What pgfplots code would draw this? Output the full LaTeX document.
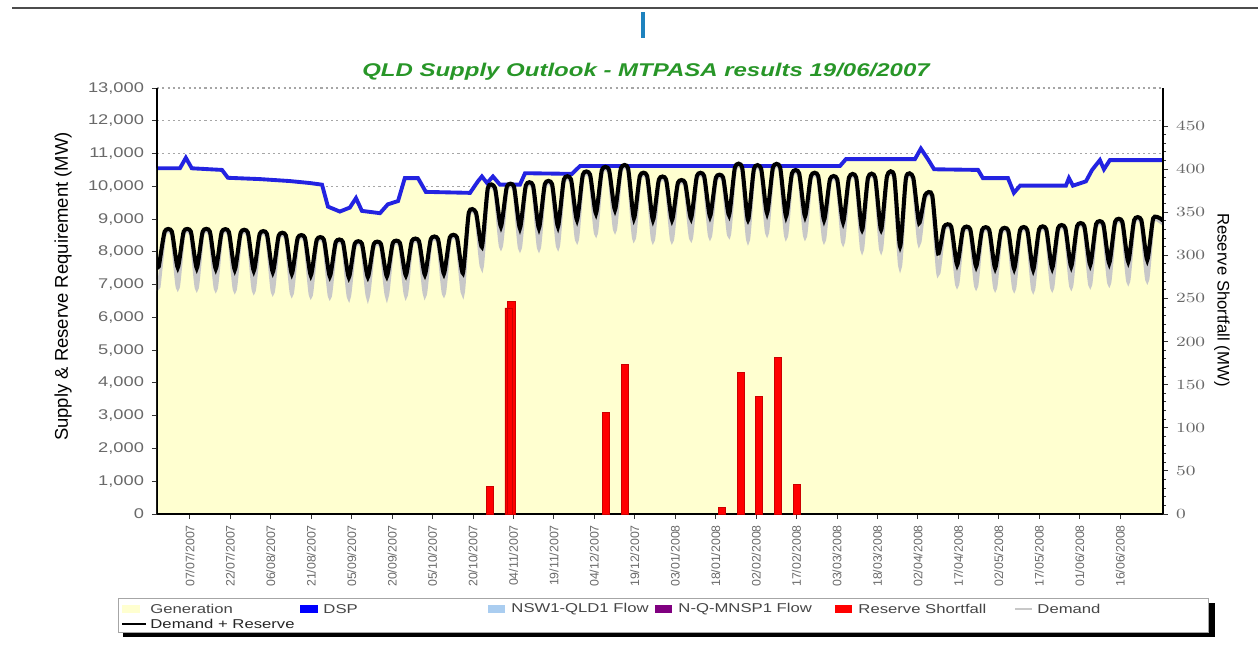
\documentclass[border=0pt]{standalone}
\usepackage{fontspec}
\setmainfont{Liberation Sans}
\usepackage{pgfplots}
\pgfplotsset{compat=1.18}
\usepackage{pgfplotstable}

\definecolor{genyellow}{RGB}{255,255,208}
\definecolor{dspblue}{RGB}{35,35,225}
\definecolor{tickgray}{RGB}{105,105,105}
\definecolor{titlegreen}{RGB}{40,150,40}
\definecolor{demgray}{RGB}{200,200,200}
\definecolor{nswblue}{RGB}{170,205,240}
\definecolor{mnsppurple}{RGB}{128,0,128}
\definecolor{legtext}{RGB}{70,70,70}
\definecolor{barblue}{RGB}{30,130,190}

% DSP (MW) vs day (day 0 = 07/07/2007)
\pgfplotstableread{
x y
-12.2 10550
-3.7 10550
-1.5 10870
0.7 10550
11.9 10500
14.1 10260
26.0 10220
37.1 10160
44.5 10100
49.0 10050
51.2 9380
55.6 9230
59.3 9350
61.6 9640
63.8 9250
70.5 9180
73.4 9450
77.2 9550
79.7 10250
84.6 10250
87.5 9830
103.9 9800
106.8 10150
108.3 10300
110.2 10100
112.4 10300
115.0 10050
122.4 10050
124.3 10400
141.7 10380
144.7 10620
241.1 10620
243.3 10830
268.9 10830
271.1 11150
273.7 10830
276.0 10520
292.3 10500
294.1 10250
303.4 10250
305.6 9800
307.9 10020
324.9 10020
326.0 10250
327.5 10020
332.3 10150
334.6 10500
337.5 10800
339.0 10520
341.2 10800
360.9 10800
}\dsp

% Demand + Reserve (dr) and Demand (d)
\pgfplotstableread{
x dr d
-12.2 7700 7150
-11.55 7550 6930
-9.35 8620 8520
-6.70 8620 8520
-4.5 7520 6900
-2.3 8620 8520
0.35 8620 8520
2.55 7500 6880
4.75 8620 8520
7.4 8620 8520
9.6 7480 6860
11.8 8610 8510
14.45 8610 8510
16.65 7450 6830
18.85 8590 8490
21.5 8590 8490
23.7 7420 6800
25.9 8550 8450
28.55 8550 8450
30.75 7380 6760
32.95 8500 8400
35.6 8500 8400
37.8 7330 6710
40.0 8430 8330
42.65 8430 8330
44.85 7280 6660
47.05 8370 8270
49.7 8370 8270
51.9 7250 6630
54.1 8300 8200
56.75 8300 8200
58.95 7220 6600
61.15 8250 8150
63.8 8250 8150
66.0 7230 6610
68.2 8240 8140
70.85 8240 8140
73.05 7250 6630
75.25 8270 8170
77.9 8270 8170
80.1 7280 6660
82.3 8330 8230
84.95 8330 8230
87.15 7300 6680
89.35 8390 8290
92.0 8390 8290
94.2 7330 6710
96.4 8440 8340
99.05 8440 8340
101.25 7350 6730
103.45 9200 9100
106.1 9200 9100
108.3 8150 7530
110.5 9950 9850
113.15 9950 9850
115.35 8770 8150
117.55 9990 9890
120.2 9990 9890
122.4 8720 8100
124.6 10030 9930
127.25 10030 9930
129.45 8720 8100
131.65 10070 9970
134.3 10070 9970
136.5 8770 8150
138.7 10210 10110
141.35 10210 10110
143.55 8970 8350
145.75 10360 10260
148.4 10360 10260
150.6 9170 8550
152.8 10500 10400
155.45 10500 10400
157.65 9280 8660
159.85 10550 10450
162.5 10550 10450
164.7 9020 8400
166.9 10320 10220
169.55 10320 10220
171.75 8970 8350
173.95 10210 10110
176.6 10210 10110
178.8 8970 8350
181.0 10110 10010
183.65 10110 10010
185.85 9020 8400
188.05 10320 10220
190.7 10320 10220
192.9 9080 8460
195.1 10270 10170
197.75 10270 10170
199.95 9120 8500
202.15 10580 10480
204.8 10580 10480
207.0 8970 8350
209.2 10540 10440
211.85 10540 10440
214.05 9180 8560
216.25 10580 10480
218.9 10580 10480
221.1 9080 8460
223.3 10400 10300
225.95 10400 10300
228.15 9080 8460
230.35 10320 10220
233.0 10320 10220
235.2 8970 8350
237.4 10220 10120
240.05 10220 10120
242.25 8900 8280
244.45 10270 10170
247.1 10270 10170
249.3 8670 8050
251.5 10270 10170
254.15 10270 10170
256.35 8670 8050
258.55 10320 10220
261.2 10320 10220
263.4 8160 7540
265.6 10270 10170
268.25 10270 10170
270.45 8880 8260
272.65 9730 9630
275.3 9730 9630
277.5 7950 7330
279.7 8770 8670
282.35 8770 8670
284.55 7600 6980
286.75 8690 8590
289.4 8690 8590
291.6 7550 6930
293.8 8670 8570
296.45 8670 8570
298.65 7500 6880
300.85 8650 8550
303.5 8650 8550
305.7 7480 6860
307.9 8670 8570
310.55 8670 8570
312.75 7450 6830
314.95 8690 8590
317.6 8690 8590
319.8 7500 6880
322.0 8730 8630
324.65 8730 8630
326.85 7550 6930
329.05 8790 8690
331.7 8790 8690
333.9 7600 6980
336.1 8850 8750
338.75 8850 8750
340.95 7650 7030
343.15 8920 8820
345.8 8920 8820
348.0 7700 7080
350.2 8970 8870
352.85 8970 8870
355.05 7750 7130
357.25 9020 8920
359.9 9020 8920
360.9 8950 8850
}\dem

% Reserve shortfall (MW, right axis)
\pgfplotstableread{
x y
111.3 32
118.2 239
119.2 247
154.3 118
161.3 173
197.3 8
204.4 164
211.0 136
218.1 182
225.1 34
}\shortfall

\begin{document}
\begin{tikzpicture}
\path[use as bounding box] (0,0) rectangle (25.16,13.18);
% header remnants
\draw[line width=0.045cm, black!70] (0.24,13.02) -- (25.16,13.02);
\fill[barblue] (12.82,12.42) rectangle (12.90,12.94);

\begin{axis}[
  at={(3.14cm,2.90cm)}, anchor=south west,
  width=20.12cm, height=8.52cm, scale only axis,
  xmin=-12.2, xmax=360.9, ymin=0, ymax=13000,
  scaled y ticks=false, scaled x ticks=false,
  axis x line*=bottom, axis y line*=left,
  axis line style={black, line width=0.9pt},
  tick align=outside, major tick length=0.1cm,
  tick style={black!80, line width=0.5pt},
  ytick={0,1000,...,13000},
  yticklabels={0,{1,000},{2,000},{3,000},{4,000},{5,000},{6,000},{7,000},{8,000},{9,000},{10,000},{11,000},{12,000},{13,000}},
  yticklabel style={font=\fontsize{8}{9}\selectfont, text=tickgray, xscale=1.3},
  xtick={0,15,...,345},
  xticklabels={07/07/2007,22/07/2007,06/08/2007,21/08/2007,05/09/2007,20/09/2007,05/10/2007,20/10/2007,04/11/2007,19/11/2007,04/12/2007,19/12/2007,03/01/2008,18/01/2008,02/02/2008,17/02/2008,03/03/2008,18/03/2008,02/04/2008,17/04/2008,02/05/2008,17/05/2008,01/06/2008,16/06/2008},
  xticklabel style={rotate=90, anchor=east, font=\fontsize{7}{8}\selectfont, text=tickgray},
  ymajorgrids, grid style={gray!70, line width=0.6pt, dash pattern=on 1.2pt off 1.8pt},
]
\addplot[draw=none, fill=genyellow] table[x=x,y=y]{\dsp} \closedcycle;
\addplot[dspblue, line width=2.2pt] table[x=x,y=y]{\dsp};
\addplot[demgray, line width=2.0pt, smooth, tension=0.35] table[x=x,y=d]{\dem};
\addplot[black, line width=2.3pt, smooth, tension=0.35] table[x=x,y=dr]{\dem};
\draw[black, line width=0.9pt] (rel axis cs:0,1) -- (rel axis cs:0,0) -- (rel axis cs:1,0);
\end{axis}

\begin{axis}[
  at={(3.14cm,2.90cm)}, anchor=south west,
  width=20.12cm, height=8.52cm, scale only axis,
  xmin=-12.2, xmax=360.9, ymin=0, ymax=494,
  axis x line=none, axis y line*=right,
  axis line style={black, line width=0.9pt},
  tick align=outside, major tick length=0.1cm, minor tick length=0.06cm,
  tick style={black!80, line width=0.5pt},
  ytick={0,50,...,450}, minor y tick num=4,
  yticklabel style={font=\fontsize{8}{9}\selectfont, text=tickgray, xscale=1.3},
]
\addplot[ybar, bar width=0.15cm, fill=red, draw=red!80!black, line width=0.4pt] table[x=x,y=y]{\shortfall};
\end{axis}

% title and axis labels
\node[font=\fontsize{10.5}{12}\selectfont\bfseries\itshape, text=titlegreen, xscale=1.3] at (12.92,11.74) {QLD Supply Outlook - MTPASA results 19/06/2007};
\node[rotate=90, font=\fontsize{10.5}{12}\selectfont] at (1.26,7.45) {Supply \& Reserve Requirement (MW)};
\node[rotate=-90, font=\fontsize{9.5}{11}\selectfont] at (24.44,7.18) {Reserve Shortfall (MW)};

% legend
\fill[black] (2.46,0.44) rectangle (24.30,1.12);
\draw[fill=white, draw=gray!70, line width=0.4pt] (2.36,0.54) rectangle (24.16,1.22);
\begin{scope}[every node/.style={font=\fontsize{7.3}{8}\selectfont, text=legtext, anchor=west, xscale=1.3, inner sep=0pt}]
\fill[genyellow] (2.44,0.92) rectangle (2.80,1.08);
\node at (3.00,1.00) {Generation};
\fill[blue] (6.00,0.92) rectangle (6.36,1.08);
\node at (6.46,1.00) {DSP};
\fill[nswblue] (9.76,0.92) rectangle (10.10,1.08);
\node at (10.22,1.00) {NSW1-QLD1 Flow};
\fill[mnsppurple] (13.10,0.92) rectangle (13.44,1.08);
\node at (13.56,1.00) {N-Q-MNSP1 Flow};
\fill[red] (16.70,0.92) rectangle (17.04,1.08);
\node at (17.16,1.00) {Reserve Shortfall};
\draw[demgray, line width=1.2pt] (20.30,1.00) -- (20.64,1.00);
\node at (20.74,1.00) {Demand};
\draw[black, line width=1.6pt] (2.44,0.70) -- (2.92,0.70);
\node[text=black!85] at (3.00,0.70) {Demand + Reserve};
\end{scope}
\end{tikzpicture}
\end{document}
